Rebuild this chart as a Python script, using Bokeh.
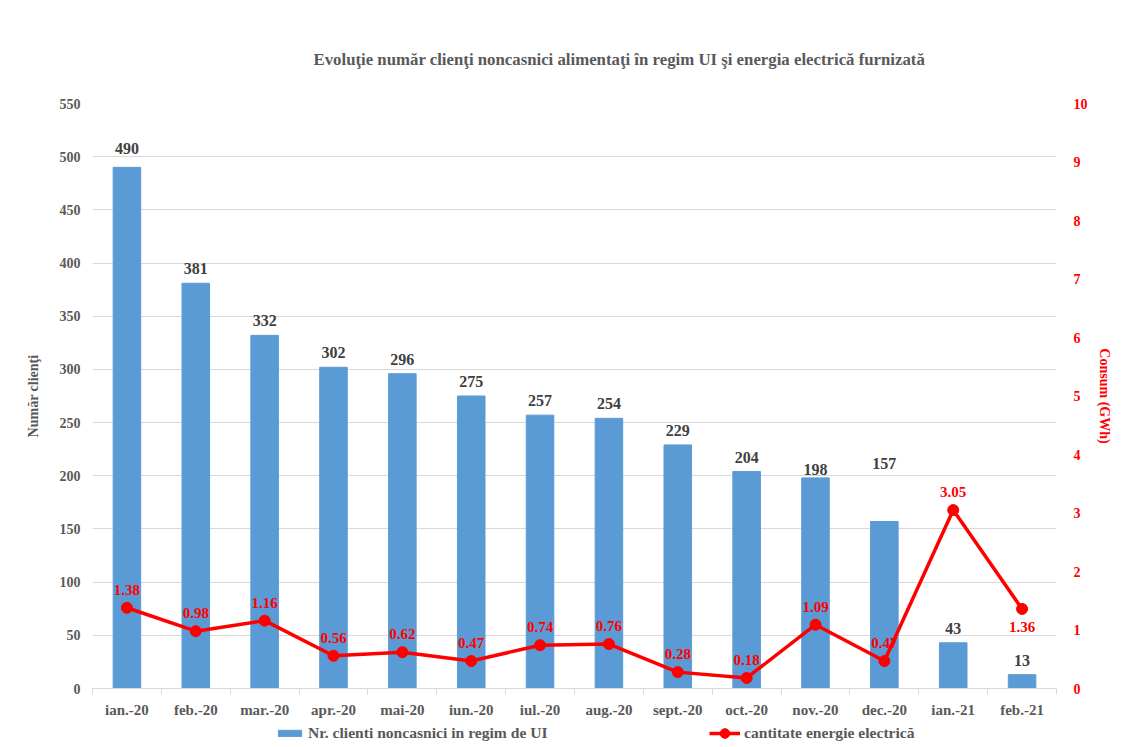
from bokeh.plotting import figure
from bokeh.layouts import column
from bokeh.models import (Range1d, LinearAxis, FixedTicker, Title, Legend, LegendItem,
                          ColumnDataSource)
from bokeh.embed import file_html
from bokeh.resources import INLINE
from bokeh.core.properties import value

# ---- data ----
months = ["ian.-20", "feb.-20", "mar.-20", "apr.-20", "mai-20", "iun.-20", "iul.-20",
          "aug.-20", "sept.-20", "oct.-20", "nov.-20", "dec.-20", "ian.-21", "feb.-21"]
clients = [490, 381, 332, 302, 296, 275, 257, 254, 229, 204, 198, 157, 43, 13]
energy = [1.38, 0.98, 1.16, 0.56, 0.62, 0.47, 0.74, 0.76, 0.28, 0.18, 1.09, 0.47, 3.05, 1.36]
left_ticks = [0, 50, 100, 150, 200, 250, 300, 350, 400, 450, 500, 550]
right_ticks = [0, 1, 2, 3, 4, 5, 6, 7, 8, 9, 10]
title_text = "Evoluţie număr clienţi noncasnici alimentaţi în regim UI şi energia electrică furnizată"
bar_series = "Nr. clienti noncasnici in regim de UI"
line_series = "cantitate energie electrică"

# label placement styles (pixel offsets of the data labels)
bar_label_offset = [-13] + [-9] * 9 + [-3, -53, -9, -9]
energy_label_side = ["above"] * 13 + ["below"]

FONT = "Liberation Serif"
GRAY = "#595959"
DARK = "#404040"
RED = "#FF0000"
BLUE = "#5B9BD5"
GRID = "#D9D9D9"

idx = list(range(len(months)))
src = ColumnDataSource(dict(
    x=idx, clients=clients, energy=energy,
    clabel=[str(c) for c in clients],
    coff=bar_label_offset,
    elabel=["%.2f" % e for e in energy],
    eoff=[-13 if s == "above" else 13 for s in energy_label_side],
    ebase=["bottom" if s == "above" else "top" for s in energy_label_side],
))

p = figure(width=1134, height=720, output_backend="svg", toolbar_location=None,
           x_range=Range1d(-0.5, len(months) - 0.5), y_range=Range1d(0, 550),
           min_border_left=92, min_border_right=78, min_border_top=103, min_border_bottom=30)
p.outline_line_color = None
p.background_fill_color = "white"
p.border_fill_color = "white"
p.extra_y_ranges = {"energy": Range1d(0, 10)}

# bars
bars = p.vbar(x="x", top="clients", width=0.4, color=BLUE, source=src)
p.text(x="x", y="clients", text="clabel", source=src, text_align="center",
       text_baseline="bottom", y_offset="coff", text_font=value(FONT), text_font_style="bold",
       text_font_size="16px", text_color=DARK)

# line
ln = p.line(x="x", y="energy", source=src, y_range_name="energy", color=RED, line_width=3.5)
sc = p.scatter(x="x", y="energy", source=src, y_range_name="energy", size=11,
               fill_color=RED, line_color=RED)
p.text(x="x", y="energy", text="elabel", source=src, y_range_name="energy",
       text_align="center", text_baseline="ebase", y_offset="eoff",
       text_font=value(FONT), text_font_style="bold", text_font_size="15px", text_color=RED)

# axes
xa = p.xaxis[0]
xa.ticker = FixedTicker(ticks=idx, minor_ticks=[i - 0.5 for i in range(len(months) + 1)])
xa.major_label_overrides = {i: m for i, m in enumerate(months)}
xa.major_tick_line_color = None
xa.major_tick_out = 0
xa.major_tick_in = 0
xa.minor_tick_line_color = GRID
xa.minor_tick_out = 6
xa.minor_tick_in = 0
xa.axis_line_color = GRID
xa.major_label_standoff = 7
xa.major_label_text_font = FONT
xa.major_label_text_font_style = "bold"
xa.major_label_text_font_size = "15px"
xa.major_label_text_color = GRAY

ya = p.yaxis[0]
ya.ticker = FixedTicker(ticks=left_ticks)
ya.axis_line_color = None
ya.major_tick_line_color = None
ya.major_tick_out = 0
ya.major_tick_in = 0
ya.minor_tick_line_color = None
ya.major_label_standoff = 12
ya.major_label_text_font = FONT
ya.major_label_text_font_style = "bold"
ya.major_label_text_font_size = "14px"
ya.major_label_text_color = GRAY
ya.axis_label = "Număr clienţi"
ya.axis_label_text_font = FONT
ya.axis_label_text_font_style = "bold"
ya.axis_label_text_font_size = "14px"
ya.axis_label_text_color = GRAY
ya.axis_label_standoff = 16

ra = LinearAxis(y_range_name="energy", ticker=FixedTicker(ticks=right_ticks))
ra.axis_line_color = None
ra.major_tick_line_color = None
ra.major_tick_out = 0
ra.major_tick_in = 0
ra.minor_tick_line_color = None
ra.major_label_standoff = 17
ra.major_label_text_font = FONT
ra.major_label_text_font_style = "bold"
ra.major_label_text_font_size = "14px"
ra.major_label_text_color = RED
ra.axis_label = "Consum (GWh)"
ra.axis_label_text_font = FONT
ra.axis_label_text_font_style = "bold"
ra.axis_label_text_font_size = "14px"
ra.axis_label_text_color = RED
ra.axis_label_standoff = 6
p.add_layout(ra, "right")

p.xgrid.grid_line_color = None
p.ygrid.grid_line_color = GRID
p.ygrid.grid_line_width = 1

# title
p.add_layout(Title(text=title_text, align="left", offset=221, standoff=70,
                   text_font=FONT, text_font_style="bold", text_font_size="16.8px",
                   text_color=GRAY), "above")

# legend strip (separate figure below the chart; proxies share the data, drawn off-range)
lg = figure(width=1134, height=27, output_backend="svg", toolbar_location=None,
            x_range=Range1d(1000, 1001), y_range=Range1d(10000, 10001),
            x_axis_location=None, y_axis_location=None, min_border=0)
lg.title = None
lg.outline_line_color = None
lg.xgrid.grid_line_color = None
lg.ygrid.grid_line_color = None
lb = lg.vbar(x="x", top="clients", width=0.4, color=BLUE, source=src)
ll = lg.line(x="x", y="energy", color=RED, line_width=3.5, source=src)
ls = lg.scatter(x="x", y="energy", size=11, fill_color=RED, line_color=RED, source=src)

common = dict(orientation="horizontal", label_standoff=4, padding=0, margin=0,
              border_line_color=None, background_fill_alpha=0,
              label_text_font=FONT, label_text_font_style="bold",
              label_text_font_size="15.6px", label_text_color=GRAY)
leg1 = Legend(items=[LegendItem(label=bar_series, renderers=[lb])],
              location=(183, 5), glyph_width=29, glyph_height=8, **common)
leg2 = Legend(items=[LegendItem(label=line_series, renderers=[ll, ls])],
              location=(617, 2), glyph_width=31, glyph_height=24, **common)
lg.add_layout(leg1, "center")
lg.add_layout(leg2, "center")

open("out.html", "w").write(file_html(column(p, lg, spacing=0), INLINE))
